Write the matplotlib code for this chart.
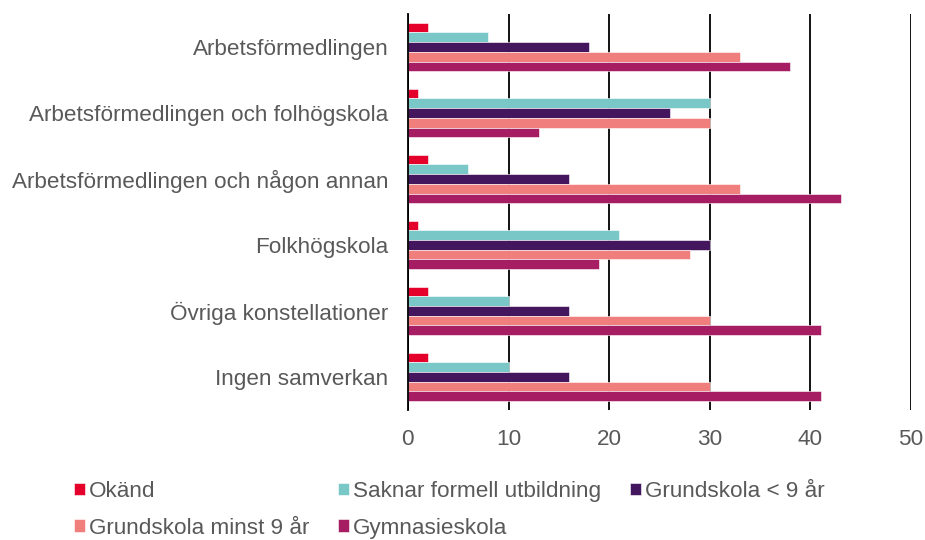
import matplotlib.pyplot as plt
import numpy as np

plt.rcParams['font.family'] = ['Liberation Sans', 'DejaVu Sans']

categories = ['Arbetsförmedlingen',
              'Arbetsförmedlingen och folhögskola',
              'Arbetsförmedlingen och någon annan',
              'Folkhögskola',
              'Övriga konstellationer',
              'Ingen samverkan']
series = ['Okänd', 'Saknar formell utbildning', 'Grundskola < 9 år',
          'Grundskola minst 9 år', 'Gymnasieskola']
okand = [2, 1, 2, 1, 2, 2]
saknar = [8, 30, 6, 21, 10, 10]
grund_lt9 = [18, 26, 16, 30, 16, 16]
grund_min9 = [33, 30, 33, 28, 30, 30]
gymnasie = [38, 13, 43, 19, 41, 41]
colors = ['#E4002B', '#7AC7C8', '#43165E', '#EF7E7D', '#A61D63']

values = [okand, saknar, grund_lt9, grund_min9, gymnasie]
txt = '#595959'
fs = 16.2

fig = plt.figure(figsize=(9.25, 5.4), dpi=100)
ax = fig.add_axes([0.441, 0.241, 0.544, 0.733])

n = len(categories)
y = np.arange(n)[::-1].astype(float)
h = 0.147
handles = []
for i, (vals, c) in enumerate(zip(values, colors)):
    offs = (i - 2) * h
    b = ax.barh(y - offs, vals, height=h, color=c, edgecolor='white',
                linewidth=0.4, label=series[i], zorder=3)
    handles.append(b)

ax.set_xlim(0, 50)
ax.set_ylim(-0.5, n - 0.5)
ax.set_xticks([0, 10, 20, 30, 40, 50])
ax.set_yticks(y)
ax.set_yticklabels(categories)
ax.xaxis.grid(True, color='black', linewidth=1.3, zorder=1)
for s in ['top', 'right', 'bottom']:
    ax.spines[s].set_visible(False)
ax.spines['left'].set_color('black')
ax.spines['left'].set_linewidth(1.3)
ax.spines['left'].set_zorder(4)
ax.tick_params(axis='both', length=0, labelsize=fs, colors=txt)
ax.tick_params(axis='x', pad=14)
ax.tick_params(axis='y', pad=14)

order = [0, 3, 1, 4, 2]
fig.legend([handles[k] for k in order], [series[k] for k in order],
           loc='lower left', bbox_to_anchor=(0.058, -0.035), ncol=3,
           frameon=False, fontsize=fs, labelcolor=txt,
           handlelength=0.5, handleheight=0.5, handletextpad=0.15,
           columnspacing=1.3, labelspacing=0.7)

fig.savefig('out.png', dpi=100)
